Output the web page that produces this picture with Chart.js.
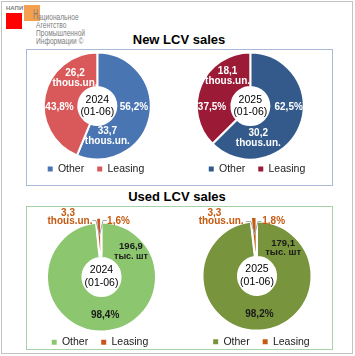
<!DOCTYPE html>
<html>
<head>
<meta charset="utf-8">
<script src="https://cdn.jsdelivr.net/npm/chart.js@4.4.1/dist/chart.umd.min.js"></script>
<style>
  html, body { margin:0; padding:0; }
  body { width:355px; height:356px; position:relative; overflow:hidden; background:#fff; font-family:"Liberation Sans", Arial, sans-serif; }
  .abs { position:absolute; }
  canvas { position:absolute; }
  .logo-line { position:absolute; left:35.7px; font-size:8.5px; line-height:8px; color:#7d7d7d; transform:scaleX(0.78); transform-origin:0 50%; white-space:nowrap; }
  .title { position:absolute; left:0; font-weight:bold; font-size:13px; line-height:16px; text-align:center; color:#000; }
</style>
</head>
<body>
<div class="abs" style="left:1px;top:1px;width:352px;height:353px;box-sizing:border-box;border:1px solid #c3c3c3;"></div>

<!-- logo -->
<div class="abs" style="left:6px;top:4.5px;font-size:6px;font-weight:bold;color:#7f7f7f;line-height:6px;">НАПИ</div>
<div class="abs" style="left:6px;top:13px;width:16px;height:16px;background:#ff0000;"></div>
<div class="abs" style="left:24px;top:5px;width:16px;height:16px;background:#f4a04e;"></div>
<div class="abs" style="left:33px;top:7px;font-size:14px;line-height:14px;color:#7d7d7d;transform:scaleX(0.5);transform-origin:0 0;">Н</div>
<div class="logo-line" style="top:12.7px;left:37.5px;">ациональное</div>
<div class="logo-line" style="top:21px;">Агентство</div>
<div class="logo-line" style="top:28.7px;">Промышленной</div>
<div class="logo-line" style="top:36.7px;">Информации ©</div>

<div class="title" style="top:31.5px;width:358px;">New LCV sales</div>
<div class="title" style="top:189.3px;width:354px;">Used LCV sales</div>

<div class="abs" style="left:26px;top:49px;width:307px;height:137px;box-sizing:border-box;border:1px solid #a9b9d6;"></div>
<div class="abs" style="left:26px;top:206px;width:307px;height:144px;box-sizing:border-box;border:1px solid #a6d3a6;"></div>

<canvas id="c1" width="150" height="135" style="left:27px;top:50px;"></canvas>
<canvas id="c2" width="150" height="135" style="left:177px;top:50px;"></canvas>
<canvas id="c3" width="150" height="151" style="left:27px;top:207px;"></canvas>
<canvas id="c4" width="150" height="151" style="left:177px;top:207px;"></canvas>

<script>
// ---- data ----
const categories = ['Other', 'Leasing'];
const periods = ['2024', '2025'];
const periodRange = '(01-06)';
const newOtherShare = [56.2, 62.5];
const newLeasingShare = [43.8, 37.5];
const newOtherUnits = [33.7, 30.2];
const newLeasingUnits = [26.2, 18.1];
const usedOtherShare = [98.4, 98.2];
const usedLeasingShare = [1.6, 1.8];
const usedOtherUnits = [196.9, 179.1];
const usedLeasingUnits = [3.3, 3.3];
const unitEn = 'thous.un.';
const unitRu = 'тыс. шт';

// ---- helpers ----
const FONT = '"Liberation Sans", Arial, sans-serif';
Chart.defaults.font.family = FONT;
const pct = v => v.toFixed(1).replace('.', ',') + '%';
const num = v => v.toFixed(1).replace('.', ',');

function makeLabelPlugin(cfg) {
  return {
    id: 'sliceLabels',
    afterDatasetsDraw(chart) {
      const ctx = chart.ctx;
      const arcs = chart.getDatasetMeta(0).data;
      const geo = i => {
        const p = arcs[i].getProps(['x','y','startAngle','endAngle','innerRadius','outerRadius','circumference'], true);
        const o = arcs[i].options.offset || 0;
        const fix = 1 - Math.sin(Math.min(Math.PI, p.circumference || 0));
        p.shift = (o / 4) * (1 + fix);
        p.mid = (p.startAngle + p.endAngle) / 2;
        return p;
      };
      const pointAt = (i, f, t) => {
        const p = geo(i);
        const a = p.startAngle + f * (p.endAngle - p.startAngle);
        const r = p.innerRadius + t * (p.outerRadius - p.innerRadius);
        return {
          x: p.x + Math.cos(a) * r + Math.cos(p.mid) * p.shift,
          y: p.y + Math.sin(a) * r + Math.sin(p.mid) * p.shift
        };
      };
      ctx.save();
      const c = arcs[0].getProps(['x','y'], true);
      ctx.textAlign = 'center';
      ctx.textBaseline = 'middle';
      ctx.fillStyle = '#000';
      ctx.font = '10.5px ' + FONT;
      ctx.fillText(cfg.center[0], c.x, c.y + cfg.centerDy[0]);
      ctx.fillText(cfg.center[1], c.x, c.y + cfg.centerDy[1]);
      (cfg.leaders || []).forEach(l => {
        const a = pointAt(l.i, 0.5, 0.5);
        ctx.strokeStyle = '#a6a6a6';
        ctx.lineWidth = 1;
        ctx.beginPath();
        l.pts.forEach((q, k) => {
          const x = a.x + q[0], y = a.y + q[1];
          if (k === 0) ctx.moveTo(x, y); else ctx.lineTo(x, y);
        });
        ctx.stroke();
      });
      cfg.items.forEach(it => {
        const pt = pointAt(it.i, it.f, it.t);
        const x = pt.x + (it.dx || 0);
        const y0 = pt.y + (it.dy || 0);
        const lh = it.lh || 10;
        const n = it.lines.length;
        ctx.fillStyle = it.color;
        it.lines.forEach((s, k) => {
          const size = (it.sizes && it.sizes[k]) || it.size || 10;
          ctx.font = 'bold ' + size + 'px ' + FONT;
          ctx.fillText(s, x, y0 + (k - (n - 1) / 2) * lh);
        });
      });
      ctx.restore();
    }
  };
}

function makeChart(id, values, colors, cutout, radius, offsets, padding, align, labelCfg) {
  return new Chart(document.getElementById(id), {
    type: 'doughnut',
    data: {
      labels: categories,
      datasets: [{
        data: values,
        backgroundColor: colors,
        borderColor: '#ffffff',
        borderWidth: 2,
        offset: offsets,
        hoverOffset: 0
      }]
    },
    options: {
      responsive: false,
      animation: false,
      events: [],
      cutout: cutout,
      radius: radius,
      layout: { padding: padding },
      plugins: {
        tooltip: { enabled: false },
        legend: {
          display: true,
          position: 'bottom',
          align: align,
          labels: {
            boxWidth: 5,
            boxHeight: 5,
            padding: 13,
            color: '#1a1a1a',
            font: { size: 10.5, family: FONT },
            generateLabels(chart) {
              const items = Chart.overrides.doughnut.plugins.legend.labels.generateLabels(chart);
              items.forEach(it => { it.lineWidth = 0; it.strokeStyle = 'rgba(0,0,0,0)'; });
              return items;
            }
          }
        }
      }
    },
    plugins: [makeLabelPlugin(labelCfg)]
  });
}

const W = '#ffffff';
const ORANGE = '#c55a11';
const DARK = '#1a1a1a';

// New LCV 2024
makeChart('c1', [newOtherShare[0], newLeasingShare[0]], ['#4a75b3', '#d9595b'], '35.5%', 53.5, [0, 0],
  { top: 11.25, bottom: 0.75, left: 7.7, right: 17.1 }, 'start',
  {
    center: [periods[0], periodRange], centerDy: [-6, 5.8],
    items: [
      { i: 0, f: 0.458, t: 0.513, lines: [pct(newOtherShare[0])], color: W },
      { i: 0, f: 0.80, t: 0.386, lines: [num(newOtherUnits[0]), unitEn], color: W },
      { i: 1, f: 0.413, t: 0.545, lines: [pct(newLeasingShare[0])], color: W },
      { i: 1, f: 0.756, t: 0.487, lines: [num(newLeasingUnits[0]), unitEn], color: W }
    ]
  });

// New LCV 2025
makeChart('c2', [newOtherShare[1], newLeasingShare[1]], ['#345a8c', '#9b1b37'], '35.5%', 53.5, [0, 0],
  { top: 11.25, bottom: 0.75, left: 5.3, right: 8.7 }, 'end',
  {
    center: [periods[1], periodRange], centerDy: [-6, 5.8],
    items: [
      { i: 0, f: 0.409, t: 0.562, lines: [pct(newOtherShare[1])], color: W },
      { i: 0, f: 0.739, t: 0.426, lines: [num(newOtherUnits[1]), unitEn], color: W },
      { i: 1, f: 0.319, t: 0.559, lines: [pct(newLeasingShare[1])], color: W },
      { i: 1, f: 0.726, t: 0.545, lines: [num(newLeasingUnits[1]), unitEn], color: W }
    ]
  });

// Used LCV 2024
makeChart('c3', [usedOtherShare[0], usedLeasingShare[0]], ['#8cc66f', '#c8561e'], '35%', 54.5, [0, 10],
  { top: 22.95, bottom: 0.45, left: 11.7, right: 12.7 }, 'start',
  {
    center: [periods[0], periodRange], centerDy: [-6.5, 6],
    items: [
      { i: 0, f: 0.493, t: 0.56, lines: [pct(usedOtherShare[0])], color: DARK },
      { i: 0, f: 0.138, t: 0.566, lines: [num(usedOtherUnits[0]), unitRu], sizes: [9.5, 9], lh: 9.5, color: DARK },
      { i: 1, f: 0.5, t: 0.5, dx: -31.4, dy: -22.7, lines: [num(usedLeasingUnits[0])], color: ORANGE },
      { i: 1, f: 0.5, t: 0.5, dx: -29.4, dy: -14, lines: [unitEn], color: ORANGE },
      { i: 1, f: 0.5, t: 0.5, dx: 19.1, dy: -14, lines: [pct(usedLeasingShare[0])], color: ORANGE }
    ],
    leaders: [
      { i: 1, pts: [[-6.9, -15], [-3.4, -15], [0, 0]] },
      { i: 1, pts: [[7.6, -15], [3.6, -15], [0, 0]] }
    ]
  });

// Used LCV 2025
makeChart('c4', [usedOtherShare[1], usedLeasingShare[1]], ['#78943c', '#c55a11'], '35%', 54.5, [0, 10],
  { top: 21.55, bottom: 1.05, left: 14.3, right: 4.3 }, 'end',
  {
    center: [periods[1], periodRange], centerDy: [-6.5, 6],
    items: [
      { i: 0, f: 0.499, t: 0.552, lines: [pct(usedOtherShare[1])], color: DARK },
      { i: 0, f: 0.121, t: 0.546, lines: [num(usedOtherUnits[1]), unitRu], sizes: [9.5, 9.5], lh: 9.5, color: DARK },
      { i: 1, f: 0.5, t: 0.5, dx: -40.2, dy: -21.7, lines: [num(usedLeasingUnits[1])], color: ORANGE },
      { i: 1, f: 0.5, t: 0.5, dx: -33.5, dy: -13, lines: [unitEn], color: ORANGE },
      { i: 1, f: 0.5, t: 0.5, dx: 19, dy: -13, lines: [pct(usedLeasingShare[1])], color: ORANGE }
    ],
    leaders: [
      { i: 1, pts: [[-8.7, -13], [-3.7, -13], [0, 0]] },
      { i: 1, pts: [[6.8, -13], [3.3, -13], [0, 0]] }
    ]
  });
</script>
</body>
</html>
